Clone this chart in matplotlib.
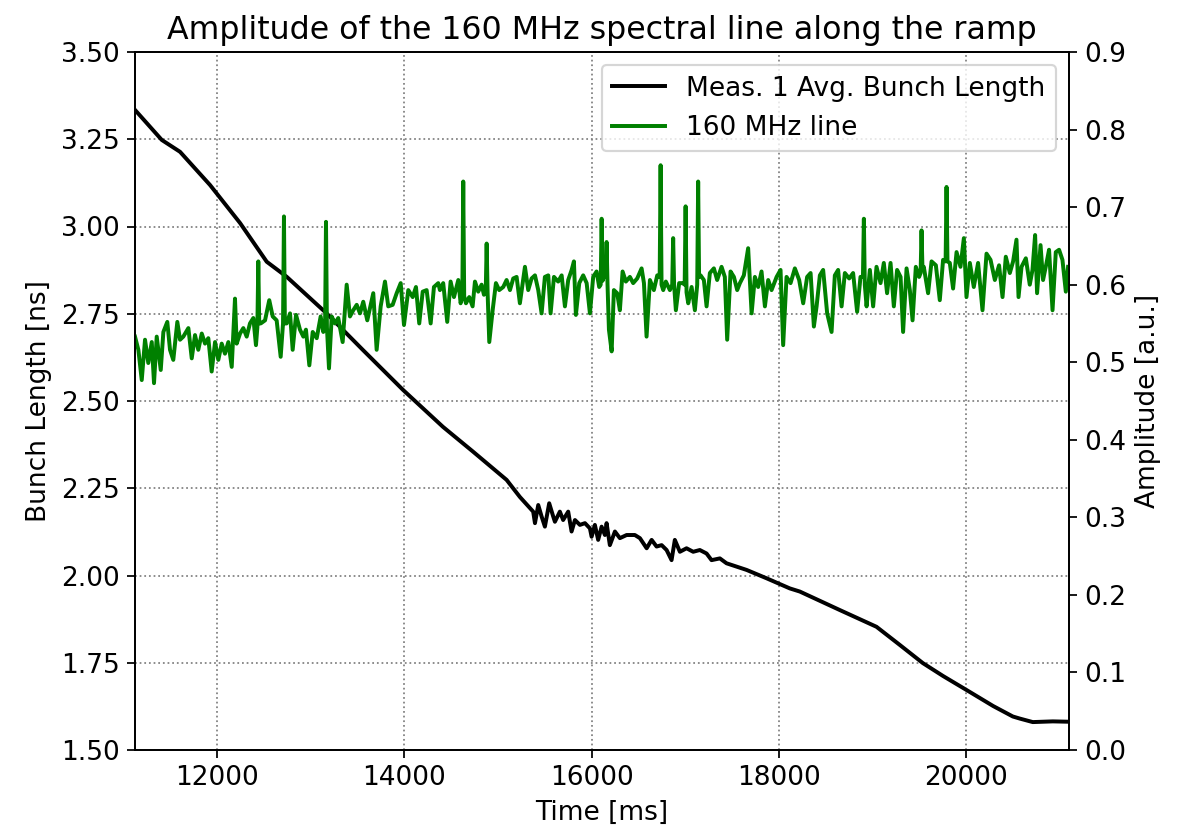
import matplotlib
matplotlib.use("Agg")
import matplotlib.pyplot as plt

# bunch length (ms, ns)
bl_time = [11124, 11410, 11605, 11925, 12246, 12531, 12744, 13171, 13559, 13986,
           14413, 14734, 15093, 15235, 15377, 15396, 15431, 15467, 15502, 15548,
           15591, 15609, 15662, 15697, 15751, 15787, 15823, 15876, 15930, 15983,
           16001, 16036, 16071, 16108, 16143, 16161, 16196, 16250, 16303, 16375,
           16463, 16517, 16589, 16642, 16695, 16749, 16802, 16855, 16890, 16944,
           17015, 17086, 17157, 17229, 17282, 17371, 17442, 17656, 17870, 18118,
           18225, 18652, 19044, 19293, 19539, 19755, 20005, 20290, 20500, 20575,
           20713, 20927, 21098]
bl_len = [3.334, 3.248, 3.214, 3.119, 3.010, 2.899, 2.856, 2.751, 2.646, 2.532,
          2.426, 2.355, 2.274, 2.225, 2.183, 2.150, 2.202, 2.169, 2.140, 2.207,
          2.169, 2.154, 2.183, 2.159, 2.183, 2.126, 2.159, 2.145, 2.150, 2.135,
          2.111, 2.145, 2.102, 2.140, 2.116, 2.150, 2.087, 2.126, 2.107, 2.116,
          2.116, 2.107, 2.078, 2.102, 2.083, 2.087, 2.073, 2.044, 2.102, 2.068,
          2.078, 2.068, 2.073, 2.063, 2.044, 2.049, 2.035, 2.016, 1.992, 1.963,
          1.954, 1.901, 1.853, 1.801, 1.749, 1.712, 1.672, 1.626, 1.596, 1.590,
          1.580, 1.582, 1.581]

# 160 MHz line amplitude (ms, a.u.)
amp_time = [11124, 11160, 11196, 11231, 11266, 11303, 11327, 11356, 11399, 11427,
            11469, 11498, 11533, 11576, 11605, 11640, 11694, 11730, 11765, 11800,
            11837, 11872, 11907, 11943, 11979, 12014, 12050, 12085, 12121, 12157,
            12192, 12210, 12246, 12281, 12317, 12352, 12388, 12416, 12441, 12467,
            12513, 12558, 12595, 12637, 12680, 12715, 12744, 12780, 12808, 12844,
            12886, 12922, 12950, 12986, 13022, 13065, 13107, 13135, 13164, 13196,
            13225, 13260, 13295, 13342, 13385, 13420, 13455, 13492, 13527, 13562,
            13605, 13641, 13669, 13705, 13748, 13794, 13829, 13876, 13919, 13962,
            13997, 14043, 14090, 14125, 14160, 14197, 14239, 14282, 14317, 14363,
            14381, 14416, 14459, 14495, 14531, 14577, 14602, 14630, 14659, 14694,
            14730, 14755, 14790, 14826, 14851, 14880, 14908, 14944, 14979, 15014,
            15057, 15093, 15129, 15164, 15200, 15235, 15289, 15324, 15360, 15396,
            15431, 15467, 15502, 15538, 15563, 15599, 15644, 15681, 15716, 15751,
            15788, 15812, 15833, 15869, 15911, 15948, 15983, 16018, 16054, 16082,
            16108, 16132, 16161, 16186, 16215, 16239, 16274, 16303, 16332, 16367,
            16410, 16445, 16488, 16535, 16560, 16588, 16624, 16666, 16702, 16738,
            16766, 16794, 16837, 16872, 16901, 16936, 16973, 17005, 17033, 17069,
            17104, 17139, 17165, 17200, 17229, 17264, 17307, 17342, 17389, 17424,
            17449, 17485, 17521, 17556, 17585, 17627, 17673, 17710, 17745, 17780,
            17816, 17852, 17887, 17923, 17977, 18019, 18047, 18083, 18126, 18172,
            18218, 18261, 18303, 18340, 18375, 18404, 18439, 18474, 18517, 18564,
            18599, 18634, 18671, 18706, 18752, 18794, 18837, 18873, 18909, 18938,
            18973, 19008, 19044, 19087, 19122, 19157, 19194, 19229, 19264, 19301,
            19328, 19365, 19400, 19429, 19464, 19499, 19525, 19549, 19595, 19632,
            19678, 19720, 19755, 19792, 19827, 19862, 19899, 19941, 19977, 20005,
            20041, 20083, 20129, 20176, 20219, 20262, 20308, 20353, 20390, 20425,
            20468, 20503, 20539, 20561, 20593, 20639, 20681, 20710, 20738, 20759,
            20796, 20823, 20860, 20887, 20924, 20959, 20994, 21030, 21066, 21090]
amp = [0.533, 0.516, 0.477, 0.529, 0.499, 0.526, 0.473, 0.533, 0.490, 0.539,
       0.552, 0.516, 0.503, 0.552, 0.529, 0.533, 0.544, 0.505, 0.535, 0.516,
       0.537, 0.524, 0.531, 0.488, 0.526, 0.503, 0.524, 0.511, 0.526, 0.494,
       0.582, 0.524, 0.537, 0.544, 0.533, 0.550, 0.557, 0.522, 0.630, 0.550,
       0.554, 0.580, 0.559, 0.554, 0.507, 0.688, 0.550, 0.563, 0.516, 0.561,
       0.542, 0.533, 0.542, 0.496, 0.539, 0.531, 0.559, 0.539, 0.681, 0.492,
       0.559, 0.550, 0.557, 0.526, 0.600, 0.559, 0.567, 0.574, 0.563, 0.578,
       0.554, 0.574, 0.589, 0.516, 0.572, 0.604, 0.572, 0.574, 0.589, 0.602,
       0.548, 0.593, 0.584, 0.597, 0.550, 0.591, 0.593, 0.550, 0.597, 0.602,
       0.593, 0.602, 0.552, 0.604, 0.584, 0.606, 0.576, 0.733, 0.576, 0.584,
       0.572, 0.604, 0.591, 0.600, 0.587, 0.653, 0.526, 0.567, 0.602, 0.593,
       0.597, 0.606, 0.593, 0.608, 0.610, 0.576, 0.623, 0.593, 0.608, 0.612,
       0.593, 0.563, 0.610, 0.612, 0.563, 0.610, 0.604, 0.612, 0.572, 0.606,
       0.619, 0.630, 0.561, 0.602, 0.612, 0.602, 0.563, 0.610, 0.617, 0.597,
       0.685, 0.610, 0.655, 0.542, 0.514, 0.593, 0.589, 0.567, 0.617, 0.604,
       0.610, 0.602, 0.608, 0.621, 0.602, 0.533, 0.606, 0.593, 0.612, 0.754,
       0.593, 0.604, 0.593, 0.660, 0.567, 0.602, 0.602, 0.701, 0.576, 0.597,
       0.567, 0.733, 0.612, 0.606, 0.572, 0.615, 0.621, 0.606, 0.623, 0.610,
       0.529, 0.617, 0.610, 0.593, 0.602, 0.612, 0.647, 0.563, 0.610, 0.597,
       0.617, 0.572, 0.606, 0.593, 0.610, 0.619, 0.522, 0.610, 0.602, 0.621,
       0.606, 0.576, 0.610, 0.615, 0.546, 0.572, 0.612, 0.619, 0.563, 0.539,
       0.612, 0.619, 0.572, 0.615, 0.608, 0.615, 0.565, 0.610, 0.685, 0.572,
       0.619, 0.572, 0.623, 0.602, 0.628, 0.589, 0.628, 0.572, 0.619, 0.610,
       0.539, 0.621, 0.593, 0.554, 0.623, 0.610, 0.670, 0.623, 0.589, 0.630,
       0.625, 0.580, 0.632, 0.726, 0.628, 0.595, 0.642, 0.623, 0.660, 0.584,
       0.628, 0.597, 0.628, 0.567, 0.640, 0.632, 0.606, 0.625, 0.584, 0.636,
       0.615, 0.630, 0.658, 0.584, 0.623, 0.634, 0.600, 0.619, 0.664, 0.589,
       0.651, 0.606, 0.628, 0.645, 0.567, 0.642, 0.645, 0.632, 0.591, 0.623]

# baseline samples right at the foot of the big spikes (they are one sample wide)
foot_time = [12431, 12451, 12705, 12725, 13154, 13174, 14620, 14640, 14870, 14890,
             16098, 16118, 16151, 16171, 16728, 16748, 16862, 16882, 16995, 17015,
             17129, 17149, 18899, 18919, 19515, 19535, 19782, 19802]
foot_amp = [0.545, 0.550, 0.550, 0.550, 0.545, 0.545, 0.585, 0.585, 0.590, 0.590,
            0.600, 0.605, 0.610, 0.600, 0.610, 0.600, 0.600, 0.600, 0.600, 0.590,
            0.600, 0.610, 0.610, 0.600, 0.615, 0.620, 0.630, 0.630]

pts = sorted(zip(amp_time + foot_time, amp + foot_amp))
green_t = [p[0] for p in pts]
green_a = [p[1] for p in pts]

plt.rcParams["font.size"] = 12

DPI = 158
fig = plt.figure(figsize=(1181 / DPI, 832 / DPI), dpi=DPI)
ax1 = fig.add_axes([135 / 1181, 82 / 832, 934 / 1181, 698 / 832])
ax2 = ax1.twinx()

l1, = ax1.plot(bl_time, bl_len, color="black", lw=1.8, label="Meas. 1 Avg. Bunch Length")
l2, = ax2.plot(green_t, green_a, color="green", lw=1.8, label="160 MHz line")

ax1.set_xlim(11124, 21100)
ax1.set_ylim(1.5, 3.5)
ax2.set_ylim(0.0, 0.9)
ax1.grid(True, linestyle=":", color="0.5")

ax1.set_title("Amplitude of the 160 MHz spectral line along the ramp")
ax1.set_xlabel("Time [ms]")
ax1.set_ylabel("Bunch Length [ns]")
ax2.set_ylabel("Amplitude [a.u.]")

ax2.legend(handles=[l1, l2], loc="upper right")

fig.savefig("out.png", dpi=DPI)
